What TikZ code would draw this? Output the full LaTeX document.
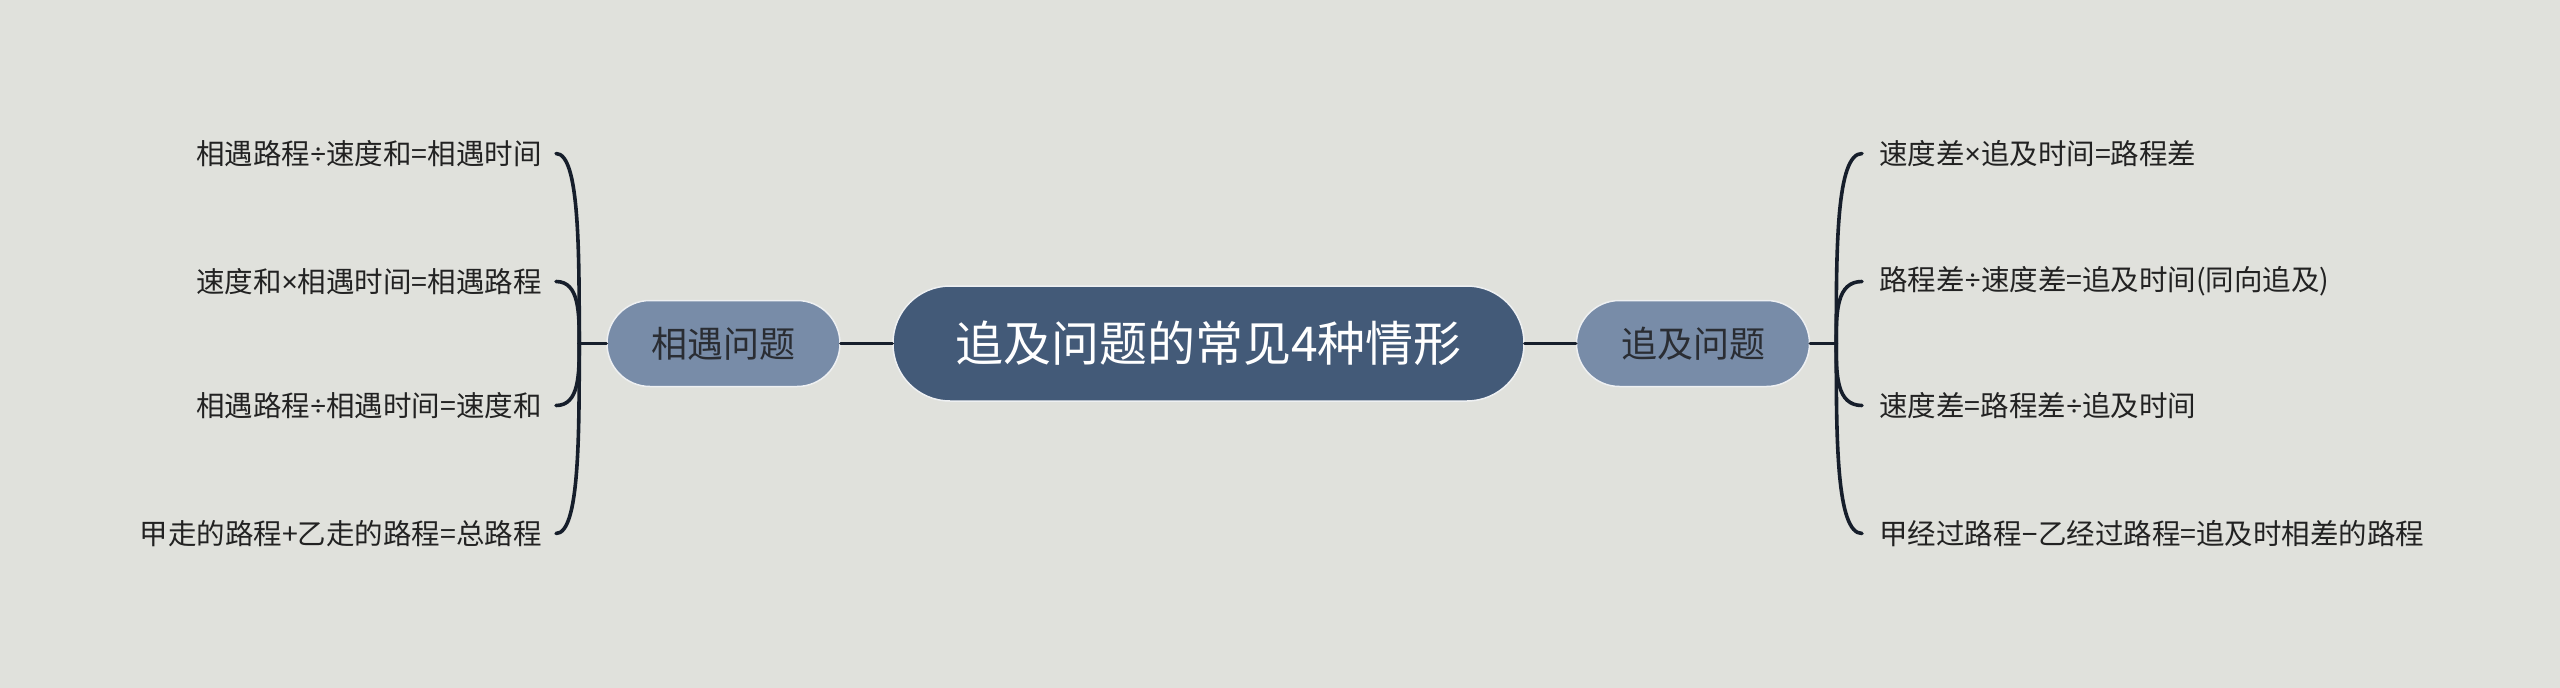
\documentclass[tikz,border=0pt]{standalone}
\usepackage{fontspec}
\setmainfont{Noto Sans CJK SC}
\newfontfamily\opfont{Noto Sans}
\newcommand{\mydiv}{{\opfont ÷}}
\newcommand{\mytimes}{{\opfont ×}}
\newcommand{\myminus}{{\opfont −}}
\usetikzlibrary{calc}
\definecolor{bgclr}{HTML}{E0E1DC}
\definecolor{rootclr}{HTML}{435A78}
\definecolor{midclr}{HTML}{788CA8}
\definecolor{lineclr}{HTML}{161E2B}
\definecolor{bordclr}{HTML}{EEF0F2}
\definecolor{txtclr}{HTML}{222222}
\definecolor{midtxt}{HTML}{2A2D33}
\begin{document}
\begin{tikzpicture}[x=1pt,y=-1pt,
  conn/.style={draw=lineclr, line width=3.6pt, line cap=round},
  rootbox/.style={fill=rootclr, draw=bordclr, line width=1.5pt, rounded corners=57pt,
    minimum width=631pt, minimum height=115pt, inner sep=0pt, text=white,
    font=\fontsize{48}{58}\selectfont},
  midbox/.style={fill=midclr, draw=bordclr, line width=1.5pt, rounded corners=43pt,
    minimum width=233pt, minimum height=86pt, inner sep=0pt, text=midtxt,
    font=\fontsize{36}{44}\selectfont},
  leaf/.style={inner sep=0pt, text=txtclr, font=\fontsize{28.5}{34}\selectfont}]
\fill[bgclr] (0,0) rectangle (2560,688);
\useasboundingbox (0,0) rectangle (2560,688);

\node[rootbox] (c) at (1208.5,343.5) {追及问题的常见4种情形};
\node[midbox] (m1) at (723.5,343.5) {相遇问题};
\node[midbox] (m2) at (1693,343.5) {追及问题};

\node[leaf, anchor=east] (a1) at (542,153.5) {相遇路程\mydiv 速度和=相遇时间};
\node[leaf, anchor=east] (a2) at (542,281.5) {速度和\mytimes 相遇时间=相遇路程};
\node[leaf, anchor=east] (a3) at (542,405.5) {相遇路程\mydiv 相遇时间=速度和};
\node[leaf, anchor=east] (a4) at (542,533.5) {甲走的路程+乙走的路程=总路程};

\node[leaf, anchor=west] (b1) at (1879,153.5) {速度差\mytimes 追及时间=路程差};
\node[leaf, anchor=west] (b2) at (1879,281.5) {路程差\mydiv 速度差=追及时间(同向追及)};
\node[leaf, anchor=west] (b3) at (1879,405.5) {速度差=路程差\mydiv 追及时间};
\node[leaf, anchor=west] (b4) at (1879,533.5) {甲经过路程\myminus 乙经过路程=追及时相差的路程};

\draw[conn] (m1.east) -- (c.west);
\draw[conn] (c.east) -- (m2.west);

\coordinate (jl) at ($(m1.west)+(-27,0)$);
\coordinate (jr) at ($(m2.east)+(26,0)$);
\draw[conn] (m1.west) -- (jl);
\draw[conn] (m2.east) -- (jr);

\foreach \i in {1,...,4} {
  \coordinate (ae\i) at ($(a\i.east)+(14,0)$);
  \coordinate (ak\i) at (jl|-ae\i);
  \draw[conn] (jl) .. controls ($(jl)!0.5!(ak\i)$) and (ak\i) .. (ae\i);
  \coordinate (be\i) at ($(b\i.west)+(-17,0)$);
  \coordinate (bk\i) at (jr|-be\i);
  \draw[conn] (jr) .. controls ($(jr)!0.5!(bk\i)$) and (bk\i) .. (be\i);
}
\end{tikzpicture}
\end{document}
